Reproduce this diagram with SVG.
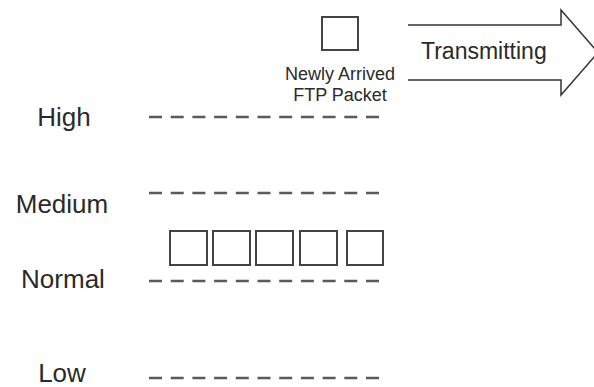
<svg xmlns="http://www.w3.org/2000/svg" width="594" height="387" viewBox="0 0 594 387">
<style>
text{font-family:"Liberation Sans",Arial,sans-serif;fill:#2a2a2a}
.lbl{font-size:26px;text-anchor:middle}
.small{font-size:18px;text-anchor:middle}
.big{font-size:23px}
.lvl{stroke:#5a5a5a;stroke-width:2.4;stroke-dasharray:13 8.7;fill:none}
.pkt{fill:#fff;stroke:#444;stroke-width:2}
.arrow{fill:#fff;stroke:#333;stroke-width:1.5;stroke-linejoin:miter}
</style>
<rect width="594" height="387" fill="#fff"/>
<g id="labels">
<text class="lbl" x="64" y="126">High</text>
<text class="lbl" x="62" y="213">Medium</text>
<text class="lbl" x="63" y="288">Normal</text>
<text class="lbl" x="62" y="382">Low</text>
</g>
<g id="connectors">
<line class="lvl" x1="149" y1="117" x2="380" y2="117"/>
<line class="lvl" x1="149" y1="193" x2="380" y2="193"/>
<line class="lvl" x1="149" y1="281" x2="380" y2="281"/>
<line class="lvl" x1="149" y1="378" x2="380" y2="378"/>
</g>
<g id="new-packet">
<rect class="pkt" x="322" y="17" width="36" height="33"/>
<text class="small" x="340" y="80">Newly Arrived</text>
<text class="small" x="340" y="101">FTP Packet</text>
</g>
<g id="queue">
<rect class="pkt" x="170" y="231" width="37" height="34"/>
<rect class="pkt" x="213" y="231" width="37" height="34"/>
<rect class="pkt" x="256" y="231" width="37" height="34"/>
<rect class="pkt" x="300" y="231" width="37" height="34"/>
<rect class="pkt" x="347" y="231" width="36" height="34"/>
</g>
<g id="transmitting">
<path class="arrow" d="M408,25 H561 V10 L598,52.5 L561,95 V80 H408"/>
<text class="big" x="421" y="59">Transmitting</text>
</g>
</svg>
